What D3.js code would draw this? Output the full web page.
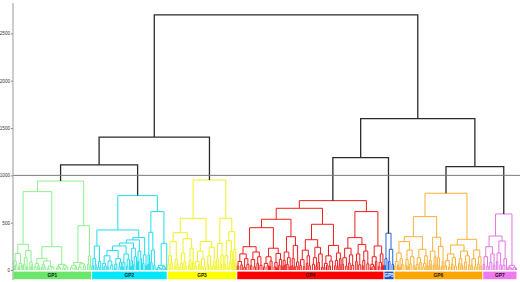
<!DOCTYPE html>
<html>
<head>
<meta charset="utf-8">
<script src="https://cdn.jsdelivr.net/npm/d3@7"></script>
<style>
  body { margin: 0; background: #fff; }
  svg { display: block; }
</style>
</head>
<body>
<div id="chart"></div>
<script>
// groups (clusters cut at height 1000)
const groupNames = ["GP1", "GP2", "GP3", "GP4", "GP5", "GP6", "GP7"];
const lineColors = ["#8fef8f", "#22dcef", "#f2f21e", "#f01c1c", "#2464d4", "#fbb034", "#e474e4"];
const barColors  = ["#6be66b", "#00e6fb", "#ffff00", "#ff0000", "#1f56c6", "#ffa500", "#ee7aee"];
const labelColors = ["#111", "#111", "#111", "#111", "#fff", "#111", "#111"];

// merges above the groups: [height, left, right]
const topTree = [2695, [1405, [1110, "GP1", "GP2"], "GP3"], [1600, [1188, "GP4", "GP5"], [1093, "GP6", "GP7"]]];

// each group: [height, left, right], a plain number = leaf with that many observations
const gp1 = [940,
  [828,
    [272,
      [175, [95, [40, 1, 1], [55, 1, 2]], [70, [30, 1, 1], [45, 2, 1]]],
      [205, [130, [60, 1, 2], [35, 1, 1]], [85, [25, 2, 1], [50, 1, 1]]]],
    [246,
      [123, [70, [30, 2, 2], [45, 1, [20, 1, 1]]], [95, [55, [25, 2, 1], [35, 1, 2]], [40, [15, 2, 2], [28, 2, 3]]]],
      [60, [38, [18, 2, 1], [25, 1, 2]], [45, [20, 2, 2], [30, 1, 3]]]]],
  [468,
    [80, [50, [22, 2, 3], [35, 1, [15, 1, 1]]], [65, [30, 2, 3], [42, [18, 1, 1], 2]]],
    [148, [60, 2, 1], [35, 1, 1]]]];

const gp2 = [786,
  [423,
    [254, [120, [45, 1, 2], [60, 1, 1]], [90, [30, 2, 1], 2]],
    [342,
      [318,
        [285,
          [254,
            [205, [150, [70, [30, 1, 1], [45, 2, 1]], [95, [25, 1, 2], [50, 2, 2]]],
                  [120, [60, [20, 1, 1], 2], [85, [35, 2, 1], 1]]],
            [170, [80, [35, 1, 1], 2], [110, [40, 1, 2], 1]]],
          [230, [100, [40, 1, 1], 1], [140, [55, 1, 2], 1]]],
        [200, [90, 1, 1], [120, 2, 1]]],
      [160, [70, 1, 2], [50, 1, 1]]]],
  [617,
    [398, [160, [60, 1, 1], 1], [210, [80, 1, 2], [45, 1, 2]]],
    [282, [50, [25, [12, 1, 1], [18, 2, 1]], [35, [15, 1, 2], [20, 1, 1]]], 1]]];

const gp3 = [951,
  [546,
    [394,
      [300, [150, [60, 1, 2], [80, 1, 2]], [110, [40, 2, 1], [55, 1, 2]]],
      [330, [180, [70, [30, 1, 1], 2], [90, 1, [40, 1, 2]]], [230, [100, [45, 2, 1], 1], [85, [35, 1, 1], 1]]]],
    [300,
      [200, [90, [40, 1, 2], [55, 2, 1]], [120, [50, 1, 1], [35, 2, 2]]],
      [240, [150, [60, 1, 2], [45, 1, 1]], [95, [40, 2, 1], 1]]]],
  [546,
    [280, [120, [50, 1, 1], 2], [160, [60, 1, 2], 1]],
    [405,
      [310, [150, [60, 1, 2], [40, 1, 1]], [200, [80, 2, 1], 1]],
      [220, [100, 1, 1], [70, 1, 1]]]]];

const gp4 = [733,
  [652,
    [536,
      [447,
        [246, [170, [90, [40, 1, 2], [55, 2, 1]], [120, [30, 2, 1], [60, 2, 2]]],
              [190, [110, [45, 1, 2], [35, 2, 1]], [140, [70, 2, 1], [50, 2, 2]]]],
        [230, [140, [70, [30, 1, 2], [45, 2, 1]], [95, [40, 1, 1], 2]],
              [175, [80, [35, 2, 1], [25, 1, 1]], [110, [50, 1, 2], 1]]]],
      [352, [190, [100, [40, 1, 1], [55, 1, 1]], [130, [60, 1, 2], [35, 1, 1]]],
            [260, [120, [45, 1, 1], [30, 1, 1]], [85, [40, 1, 2], 1]]]],
    [483,
      [320, [210, [110, [50, 1, 2], [35, 2, 1]], [150, [70, 2, 1], [45, 1, 2]]],
            [240, [130, [60, 2, 2], [40, 1, 1]], [170, [80, 1, 2], [30, 2, 1]]]],
      [260, [150, [70, [30, 1, 1], [50, 2, 1]], [95, [40, 1, 2], 2]],
            [180, [100, [45, 2, 1], [25, 1, 1]], [120, [55, 1, 1], 1]]]]],
  [617,
    [342, [230, [130, [60, 1, 2], [40, 2, 1]], [160, [75, 2, 1], [50, 2, 2]]],
          [270, [170, [90, 2, 1], [55, 2, 2]], [200, [100, [45, 1, 1], 2], [65, 2, 2]]]],
    [254, [140, [60, [25, 1, 1], [40, 2, 1]], [90, 1, 2]],
          [170, [80, [35, 1, 2], 1], [50, 1, 1]]]]];

const gp5 = [388, [120, [50, 1, 1], 2], [219, [90, 1, 2], [60, 2, 1]]];

const gp6 = [811,
  [564,
    [352,
      [300, [180, [90, [40, 1, 2], [55, 1, 1]], [120, [30, 1, 1], [60, 1, 2]]],
            [210, [110, [50, 2, 1], [35, 1, 1]], [140, [65, 1, 2], [45, 2, 1]]]],
      [219, [130, [60, [25, 1, 1], 2], [80, 1, 2]], [150, [70, [35, 1, 2], 1], [45, 1, 1]]]],
    [346, [200, [100, [45, 1, 1], [60, 1, 1]], [140, [50, 2, 1], 1]],
          [250, [130, [55, 1, 1], [35, 1, 1]], [90, [40, 2, 1], 1]]]],
  [324,
    [264, [170, [100, [45, 1, 2], [30, 2, 1]], [130, [60, 2, 1], [40, 2, 2]]],
          [200, [120, [70, 2, 1], [50, 1, 2]], [150, [85, [35, 1, 1], 2], [55, 2, 1]]]],
    [211, [120, [50, 1, 2], [35, 2, 1]], [140, [65, 2, 1], [40, 1, 2]]]]];

const gp7 = [592,
  [359,
    [246, [140, [60, 1, 2], [40, 2, 1]], [170, [80, 2, 2], [50, 1, 2]]],
    [306, [180, [90, 1, 2], [55, 2, 1]], [120, [50, 2, 2], 1]]],
  [50, [30, [15, 1, 1], [20, 2, 1]], [25, [12, 1, 2], [18, 1, 1]]]];

const groupTrees = [gp1, gp2, gp3, gp4, gp5, gp6, gp7];

// axis
const yTicks = [0, 500, 1000, 1500, 2000, 2500];
const cutHeight = 1000;

const width = 520, height = 282;

const svg = d3.select("#chart").append("svg")
  .attr("width", width)
  .attr("height", height);

// turn the nested arrays into a hierarchy
function build(d, g) {
  if (typeof d === "string") {
    const i = groupNames.indexOf(d);
    return build(groupTrees[i], i);
  }
  if (typeof d === "number") return { h: 0, n: d, group: g };
  return { h: d[0], group: g, children: [build(d[1], g), build(d[2], g)] };
}
const root = d3.hierarchy(build(topTree, -1));

// leaf slots in order
let slot = 0;
root.leaves().forEach(l => { l.start = slot; slot += l.data.n; });
const totalSlots = slot;

const x = d3.scaleLinear().domain([0, totalSlots]).range([13, 517]);
const y = d3.scaleLinear().domain([0, 2800]).range([270, 5]);

root.eachAfter(d => {
  if (d.children) d.px = d3.mean(d.children, c => c.px);
  else d.px = x(d.start + d.data.n / 2);
});

// links: one path per merge
const merges = root.descendants().filter(d => d.children);
svg.append("g")
  .attr("fill", "none")
  .selectAll("path")
  .data(merges.slice().sort((a, b) => (a.data.group < 0) - (b.data.group < 0)))
  .join("path")
    .attr("d", d => {
      const [a, b] = d.children;
      return "M" + a.px + "," + y(a.data.h) + "V" + y(d.data.h) + "H" + b.px + "V" + y(b.data.h);
    })
    .attr("stroke", d => d.data.group < 0 ? "#2b2b2b" : lineColors[d.data.group])
    .attr("stroke-width", d => d.data.group < 0 ? 1.3 : 1);

// cut line
svg.append("line")
  .attr("x1", x(0)).attr("x2", width)
  .attr("y1", y(cutHeight)).attr("y2", y(cutHeight))
  .attr("stroke", "#7a7a7a")
  .attr("stroke-width", 1);

// y axis
const axis = svg.append("g")
  .attr("transform", "translate(" + x(0) + ",0)")
  .call(d3.axisLeft(y).tickValues(yTicks).tickFormat(d3.format("d")).tickSize(2).tickPadding(1));
axis.select(".domain").remove();
axis.selectAll(".tick line").attr("stroke", "#888");
axis.selectAll("text")
  .attr("font-family", "Arial, Liberation Sans, sans-serif")
  .attr("font-size", 4.6)
  .attr("fill", "#333");

svg.append("line")
  .attr("x1", x(0)).attr("x2", x(0))
  .attr("y1", y(2820)).attr("y2", y(0) + 10)
  .attr("stroke", "#999")
  .attr("stroke-width", 1);

// group bars along the bottom
const groupRoots = root.descendants().filter(d => d.data.group >= 0 && d.parent && d.parent.data.group < 0);
const bars = groupRoots.map(d => {
  const lv = d.leaves();
  return { g: d.data.group, x0: x(lv[0].start), x1: x(lv[lv.length - 1].start + lv[lv.length - 1].data.n) };
});

const barTop = y(0) + 1.6, barH = 7.6;
const bar = svg.append("g").selectAll("g")
  .data(bars)
  .join("g");

bar.append("rect")
  .attr("x", d => d.x0 + 0.5)
  .attr("y", barTop)
  .attr("width", d => d.x1 - d.x0 - 1)
  .attr("height", barH)
  .attr("fill", d => barColors[d.g]);

bar.append("text")
  .attr("x", d => (d.x0 + d.x1) / 2)
  .attr("y", barTop + barH / 2 + 1.6)
  .attr("text-anchor", "middle")
  .attr("font-family", "Arial, Liberation Sans, sans-serif")
  .attr("font-weight", "bold")
  .attr("font-size", 4.8)
  .attr("fill", d => labelColors[d.g])
  .text(d => groupNames[d.g]);
</script>
</body>
</html>
